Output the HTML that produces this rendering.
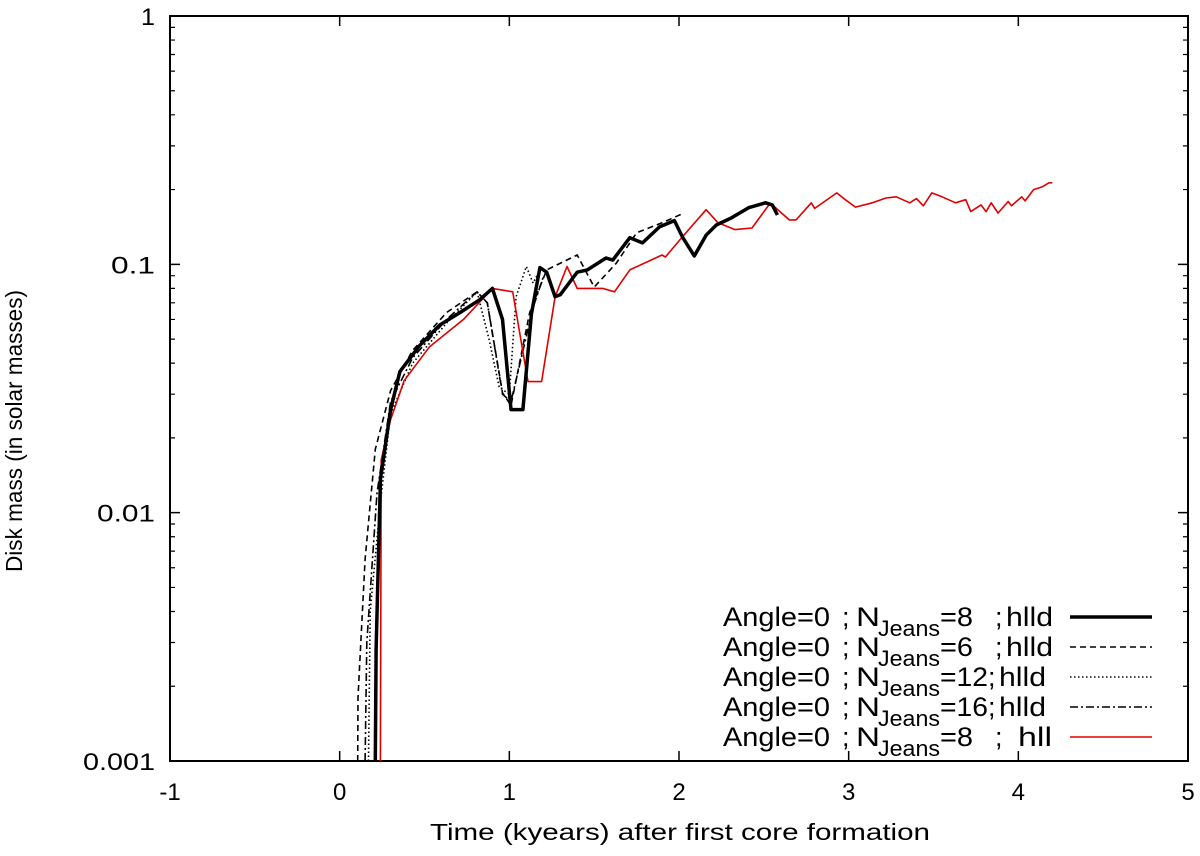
<!DOCTYPE html>
<html><head><meta charset="utf-8"><style>
body{margin:0;background:#fff}
svg{display:block;font-family:"Liberation Sans",sans-serif}
</style></head><body>
<svg id="chart" width="1200" height="856">
<g id="axes"></g>
<g id="series"></g>
<text x="680" y="840" font-size="23" text-anchor="middle" textLength="500" lengthAdjust="spacingAndGlyphs">Time (kyears) after first core formation</text>
<text x="22" y="431" font-size="23" text-anchor="middle" textLength="282" lengthAdjust="spacingAndGlyphs" transform="rotate(-90 22 431)">Disk mass (in solar masses)</text>
<g id="legend"></g>
</svg>
<script>
const xTicks=[-1,0,1,2,3,4,5];
const yTicks=[0.001,0.01,0.1,1];
const yTickLabels=["0.001","0.01","0.1","1"];
const t8=[0.21,0.215,0.24,0.30,0.355,0.47,0.59,0.71,0.825,0.90,0.96,1.01,1.08,1.13,1.18,1.22,1.27,1.30,1.40,1.46,1.57,1.61,1.71,1.785,1.885,1.973,2.02,2.09,2.16,2.22,2.31,2.41,2.51,2.55,2.58];
const m8=[0.001,0.0028,0.0136,0.026,0.037,0.047,0.057,0.064,0.072,0.080,0.060,0.026,0.026,0.063,0.097,0.093,0.074,0.0754,0.093,0.095,0.106,0.104,0.128,0.122,0.1415,0.150,0.129,0.108,0.131,0.144,0.154,0.169,0.177,0.1735,0.158];
const t6=[0.106,0.108,0.15,0.21,0.30,0.43,0.63,0.81,0.87,0.96,1.01,1.12,1.22,1.40,1.50,1.63,1.75,1.90,2.03];
const m6=[0.001,0.0018,0.0065,0.018,0.031,0.045,0.064,0.0775,0.070,0.0304,0.027,0.064,0.095,0.109,0.081,0.101,0.134,0.147,0.161];
const t12=[0.17,0.18,0.24,0.30,0.43,0.63,0.81,0.88,0.94,1.00,1.04,1.10,1.14,1.18];
const m12=[0.001,0.004,0.011,0.025,0.040,0.058,0.0775,0.050,0.032,0.030,0.074,0.098,0.084,0.095];
const t16=[0.15,0.16,0.22,0.30,0.43,0.63,0.81,0.87,0.96,1.01,1.14,1.20];
const m16=[0.001,0.003,0.012,0.028,0.042,0.060,0.0775,0.070,0.030,0.028,0.067,0.089];
const tH=[0.24,0.245,0.30,0.38,0.53,0.73,0.90,1.02,1.11,1.19,1.27,1.34,1.40,1.55,1.62,1.71,1.90,1.92,2.02,2.16,2.23,2.33,2.43,2.53,2.55,2.65,2.69,2.78,2.80,2.93,2.98,3.04,3.14,3.22,3.28,3.36,3.40,3.44,3.49,3.55,3.63,3.69,3.72,3.78,3.81,3.84,3.88,3.94,3.96,4.02,4.04,4.09,4.14,4.18,4.20];
const mH=[0.001,0.0163,0.0237,0.034,0.0466,0.060,0.080,0.0775,0.0337,0.0337,0.074,0.098,0.080,0.080,0.0775,0.095,0.109,0.107,0.129,0.166,0.147,0.138,0.140,0.1735,0.1735,0.151,0.151,0.177,0.168,0.194,0.182,0.170,0.177,0.185,0.187,0.177,0.184,0.172,0.194,0.187,0.177,0.182,0.163,0.1735,0.163,0.177,0.161,0.179,0.172,0.187,0.180,0.200,0.205,0.213,0.213];

const L=170,R=1188,T=16,B=761;
function X(t){return L+(t+1)/6*(R-L);}
function Y(m){return B-(Math.log10(m)+3)/3*(B-T);}
const NS="http://www.w3.org/2000/svg";
function mk(tag,attrs,parent){const e=document.createElementNS(NS,tag);for(const k in attrs)e.setAttribute(k,attrs[k]);parent.appendChild(e);return e;}
const axes=document.getElementById('axes');
const frame=mk('rect',{x:L,y:T,width:R-L,height:B-T,fill:'none',stroke:'#000','stroke-width':2},axes);


xTicks.forEach(v=>{
  const x=X(v);
  const tk=mk('path',{d:`M${x} ${B}V${B-10}M${x} ${T}V${T+10}`,stroke:'#000','stroke-width':1.5},axes);
  
  
  const lb=mk('text',{x:x,y:B+39,'font-size':24,'text-anchor':'middle'},axes);
  lb.textContent=String(v);
  
  
});
const yLabW=[72,58,44,14];
yTicks.forEach((v,i)=>{
  const y=Y(v);
  const tk=mk('path',{d:`M${L} ${y}H${L+10}M${R} ${y}H${R-10}`,stroke:'#000','stroke-width':1.5},axes);
  
  
  const lb=mk('text',{x:155-yLabW[i],y:y+9,'font-size':24,textLength:yLabW[i],lengthAdjust:'spacingAndGlyphs'},axes);
  lb.textContent=yTickLabels[i];
  
  
  if(i<yTicks.length-1){for(let k=2;k<10;k++){const yy=Y(v*k);
    const mt=mk('path',{d:`M${L} ${yy}H${L+5}M${R} ${yy}H${R-5}`,stroke:'#000','stroke-width':1.2},axes);
    
    }}
});
const series=document.getElementById('series');
function line(ts,ms,stroke,w,dash,name){
  const d=ts.map((t,i)=>(i?'L':'M')+X(t).toFixed(1)+' '+Y(ms[i]).toFixed(1)).join('');
  const p=mk('path',{d:d,fill:'none',stroke:stroke,'stroke-width':w,'stroke-dasharray':dash,'stroke-linejoin':'round'},series);
  
  
}
line(t6,m6,'#000',1.6,'6 4','series-njeans6-hlld');
line(t12,m12,'#000',1.6,'1.5 2.5','series-njeans12-hlld');
line(t16,m16,'#000',1.6,'8 3 2 3','series-njeans16-hlld');
line(tH,mH,'#e00000',1.6,'none','series-njeans8-hll');
line(t8,m8,'#000',3.5,'none','series-njeans8-hlld');

const lg=document.getElementById('legend');
const rows=[["8",true,"#000",3.5,"none"],["6",true,"#000",1.6,"6 4"],["12",false,"#000",1.6,"1.5 2.5"],["16",false,"#000",1.6,"8 3 2 3"],["8",true,"#e00000",1.6,"none"]];
function tx(g,x,y,s,size,len){const a={x:x,y:y,'font-size':size};if(len){a.textLength=len;a.lengthAdjust='spacingAndGlyphs';}const e=mk('text',a,g);e.textContent=s;return e;}
rows.forEach((r,i)=>{
  const y=617+i*30, by=y+9;
  const g=mk('g',{},lg);
  
  
  tx(g,723,by,'Angle=0',27,107);
  tx(g,842,by,';',27);
  tx(g,856,by,'N',27,24);
  tx(g,878,by+10,'Jeans',22,62);
  const eq='='+r[0];
  tx(g,940,by,eq,27,eq.length===2?33:48);
  const sx=r[0].length===2?988:995;
  tx(g,sx,by,';',27);
  if(i===4) tx(g,1018,by,'hll',27,34);
  else tx(g,sx+11,by,'hlld',27,47);
  mk('path',{d:`M1070 ${y}H1152`,stroke:r[2],'stroke-width':r[3],'stroke-dasharray':r[4]},g);
});
</script>
</body></html>
